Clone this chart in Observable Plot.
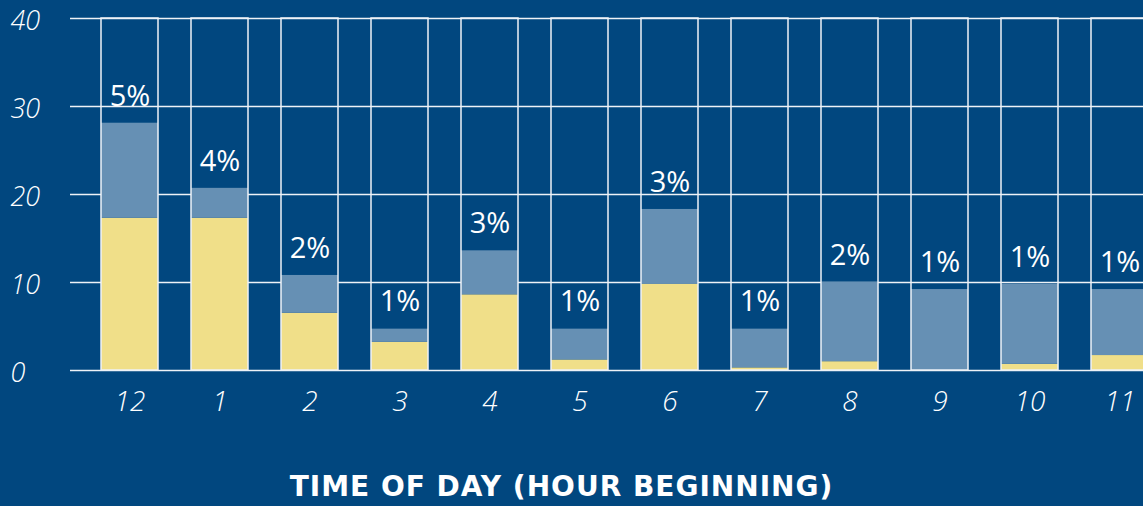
<!DOCTYPE html>
<html><head><meta charset="utf-8">
<script src="https://cdn.jsdelivr.net/npm/d3@7"></script>
<script src="https://cdn.jsdelivr.net/npm/@observablehq/plot@0.6"></script>
<style>
html,body{margin:0;padding:0;background:#01477f;}
#chart{width:1143px;height:506px;overflow:hidden;position:relative;background:#01477f;}
#title{position:absolute;left:0;top:470px;width:1123px;text-align:center;color:#fff;font:700 28px "DejaVu Sans", sans-serif;line-height:34px;letter-spacing:1px;white-space:nowrap;}
svg text.tick{letter-spacing:2px;}
svg text.share{letter-spacing:1px;}
</style></head><body><div id="chart"><div id="plot"></div><div id="title"></div></div>
<script>
const hours = ["12","1","2","3","4","5","6","7","8","9","10","11"];
const yellowSeg = [17.3, 17.3, 6.5, 3.2, 8.6, 1.2, 9.8, 0.3, 1.0, 0.0, 0.7, 1.7];
const blueSeg   = [10.8, 3.4, 4.3, 1.5, 5.0, 3.5, 8.5, 4.4, 9.0, 9.2, 9.1, 7.5];
const shareLabels = ["5%","4%","2%","1%","3%","1%","3%","1%","2%","1%","1%","1%"];
const yTicks = [0, 10, 20, 30, 40];
const xTitle = "TIME OF DAY (HOUR BEGINNING)";

const rows = hours.flatMap((h, i) => [
  {hour: h, part: "lower", value: yellowSeg[i]},
  {hour: h, part: "upper", value: blueSeg[i]}
]);
const totals = hours.map((h, i) => ({hour: h, total: yellowSeg[i] + blueSeg[i], label: shareLabels[i]}));

const lineColor = "#eef2f7";
const tickFont = {fill: "#fff", fontStyle: "italic", fontWeight: 300, fontFamily: "'Open Sans', sans-serif", className: "tick"};
const chart = Plot.plot({
  width: 1143, height: 440,
  marginLeft: 70, marginRight: 0, marginTop: 18, marginBottom: 70,
  style: {background: "transparent", color: "#fff", overflow: "visible"},
  x: {domain: hours, range: [84.5, 1164.5], paddingInner: 0.367, paddingOuter: 0.1835, axis: null},
  y: {domain: [0, 40], axis: null},
  color: {domain: ["lower", "upper"], range: ["#f0df89", "#6690b4"]},
  marks: [
    Plot.ruleY(yTicks, {stroke: lineColor, strokeWidth: 1.5}),
    Plot.barY(rows, {x: "hour", y: "value", fill: "part"}),
    Plot.barY(hours, {x: d => d, y1: 0, y2: 40, fill: "none", stroke: lineColor, strokeWidth: 1.5}),
    Plot.text(yTicks, {y: d => d, text: d => String(d), frameAnchor: "left", textAnchor: "start", dx: -60, dy: 3, lineAnchor: "middle", fontSize: 27, ...tickFont}),
    Plot.text(hours, {x: d => d, text: d => d, frameAnchor: "bottom", dy: 32, lineAnchor: "middle", fontSize: 28, ...tickFont}),
    Plot.text(totals, {x: "hour", y: "total", text: "label", dy: -27, lineAnchor: "middle",
      fill: "#fff", fontSize: 29, fontWeight: 500, fontFamily: "'Open Sans', sans-serif", className: "share"})
  ]
});
document.getElementById("plot").appendChild(chart);
document.getElementById("title").textContent = xTitle;
</script>
</body></html>
